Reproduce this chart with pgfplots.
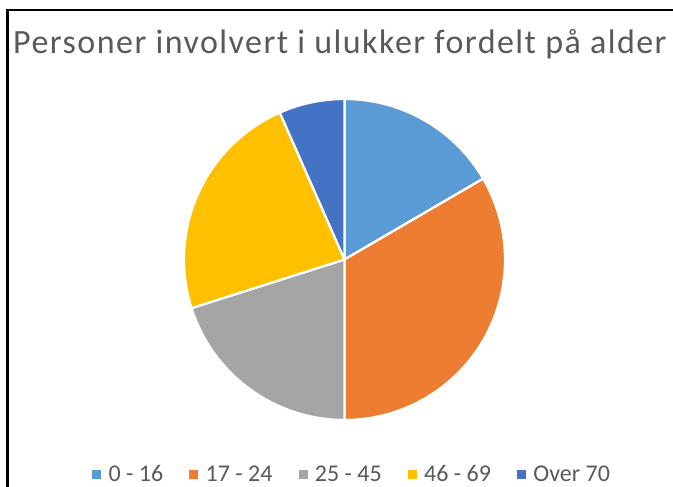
\documentclass[border=0pt]{standalone}
\usepackage{pgfplots}
\pgfplotsset{compat=1.18}
\usepackage{fontspec}
\setmainfont{Carlito}
\newfontfamily\titlefont[LetterSpace=4.3]{Carlito}
\definecolor{c0}{HTML}{5B9BD5}
\definecolor{c1}{HTML}{ED7D31}
\definecolor{c2}{HTML}{A5A5A5}
\definecolor{c3}{HTML}{FFC000}
\definecolor{c4}{HTML}{4472C4}
\definecolor{txt}{HTML}{595959}
% shares (percent) per age group
\def\vA{16.6}% 0 - 16
\def\vB{33.4}% 17 - 24
\def\vC{20.1}% 25 - 45
\def\vD{23.3}% 46 - 69
\def\vE{6.6}%  Over 70
\pgfmathsetmacro\aA{0}
\pgfmathsetmacro\aB{\aA+3.6*\vA}
\pgfmathsetmacro\aC{\aB+3.6*\vB}
\pgfmathsetmacro\aD{\aC+3.6*\vC}
\pgfmathsetmacro\aE{\aD+3.6*\vD}
\pgfmathsetmacro\aF{\aE+3.6*\vE}
\def\cx{344.5}\def\cy{259.5}\def\R{160.5}
\begin{document}
\begin{tikzpicture}
\begin{axis}[
  width=673bp, height=487bp, scale only axis,
  xmin=0, xmax=673, ymin=0, ymax=487, y dir=reverse,
  hide axis, clip=false,
  legend columns=5,
  legend style={at={(axis cs:92,474.5)}, anchor=west, draw=none, fill=none,
    inner sep=0pt, font=\fontsize{24bp}{28bp}\selectfont, text=txt,
    nodes={inner sep=0pt, anchor=base west},
    /tikz/every odd column/.append style={column sep=8bp},
    /tikz/every even column/.append style={column sep=26bp}},
]
\addplot[fill=c0, draw=white, line width=2.25bp, domain=\aA:\aB, samples=80, forget plot]
  ({\cx+\R*sin(x)}, {\cy-\R*cos(x)}) -- (axis cs:\cx,\cy) -- cycle;
\addplot[fill=c1, draw=white, line width=2.25bp, domain=\aB:\aC, samples=80, forget plot]
  ({\cx+\R*sin(x)}, {\cy-\R*cos(x)}) -- (axis cs:\cx,\cy) -- cycle;
\addplot[fill=c2, draw=white, line width=2.25bp, domain=\aC:\aD, samples=80, forget plot]
  ({\cx+\R*sin(x)}, {\cy-\R*cos(x)}) -- (axis cs:\cx,\cy) -- cycle;
\addplot[fill=c3, draw=white, line width=2.25bp, domain=\aD:\aE, samples=80, forget plot]
  ({\cx+\R*sin(x)}, {\cy-\R*cos(x)}) -- (axis cs:\cx,\cy) -- cycle;
\addplot[fill=c4, draw=white, line width=2.25bp, domain=\aE:\aF, samples=80, forget plot]
  ({\cx+\R*sin(x)}, {\cy-\R*cos(x)}) -- (axis cs:\cx,\cy) -- cycle;
\addlegendimage{legend image code/.code={\fill[c0] (0bp,3.5bp) rectangle (8bp,11.5bp);}}
\addlegendentry{0 - 16}
\addlegendimage{legend image code/.code={\fill[c1] (0bp,3.5bp) rectangle (8bp,11.5bp);}}
\addlegendentry{17 - 24}
\addlegendimage{legend image code/.code={\fill[c2] (0bp,3.5bp) rectangle (8bp,11.5bp);}}
\addlegendentry{25 - 45}
\addlegendimage{legend image code/.code={\fill[c3] (0bp,3.5bp) rectangle (8bp,11.5bp);}}
\addlegendentry{46 - 69}
\addlegendimage{legend image code/.code={\fill[c4] (0bp,3.5bp) rectangle (8bp,11.5bp);}}
\addlegendentry{Over 70}
\draw[line width=2.5bp] (axis cs:7.5,487) -- (axis cs:7.5,10) -- (axis cs:673,10);
\node[anchor=base west, inner sep=0pt, text=txt, font=\titlefont\fontsize{34bp}{40bp}\selectfont]
  at (axis cs:13,54) {Personer involvert i ulukker fordelt på alder};
\end{axis}
\pgfresetboundingbox
\path (0,0) rectangle (673bp,487bp);
\end{tikzpicture}
\end{document}
